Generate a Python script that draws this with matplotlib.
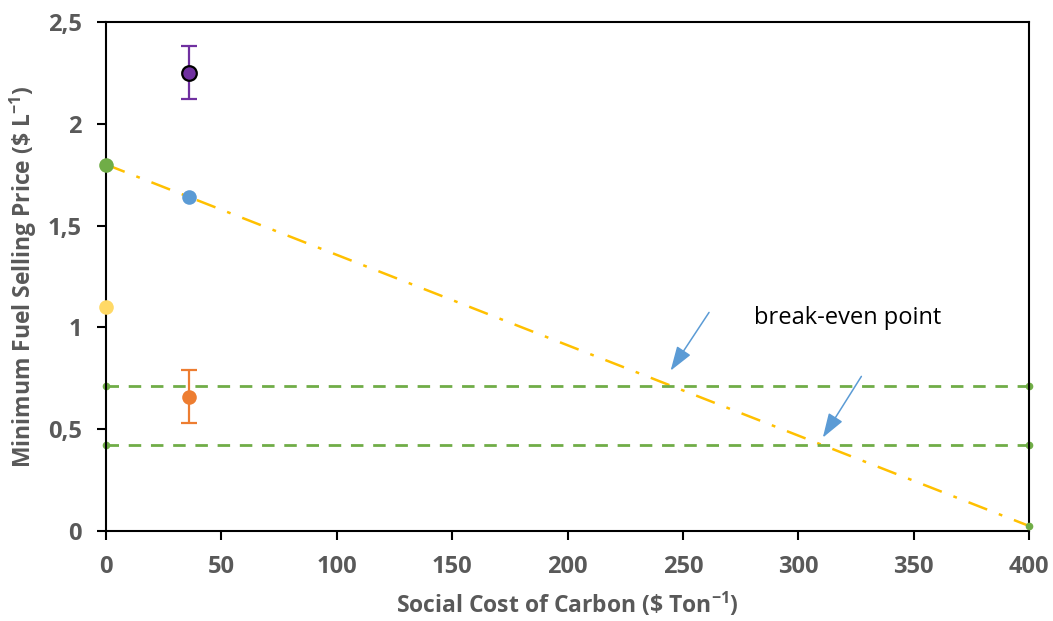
import matplotlib
matplotlib.use('Agg')
import matplotlib.pyplot as plt

# Data
scc_points = [36, 0, 36, 0, 36]           # $ / ton
mfsp_points = [2.25, 1.80, 1.64, 1.10, 0.66]  # $ / L
mfsp_err = [0.13, 0, 0, 0, 0.13]
point_colors = ['#7030A0', '#70AD47', '#5B9BD5', '#FFD966', '#ED7D31']
point_edges = ['black', '#70AD47', '#5B9BD5', '#FFD966', '#ED7D31']

trend_x = [0, 400]
trend_y = [1.80, 0.025]

level_x = [0, 400]
level_high = [0.712, 0.712]
level_low = [0.422, 0.422]

arrow_tails = [(262, 1.085), (328, 0.771)]
arrow_heads = [(244, 0.776), (310, 0.447)]

xticks = [0, 50, 100, 150, 200, 250, 300, 350, 400]
yticks = [0, 0.5, 1, 1.5, 2, 2.5]
ytick_labels = ['0', '0,5', '1', '1,5', '2', '2,5']

plt.rcParams['font.family'] = ['Open Sans', 'DejaVu Sans']
plt.rcParams['mathtext.fontset'] = 'custom'
plt.rcParams['mathtext.rm'] = 'Open Sans:bold'
plt.rcParams['mathtext.bf'] = 'Open Sans:bold'

gray = '#595959'

fig = plt.figure(figsize=(10.53, 6.21), dpi=100)
ax = fig.add_axes([0.1007, 0.1449, 0.8765, 0.8197])

# trend line and level lines
ax.plot(trend_x, trend_y, color='#FFC000', linestyle=(0, (8, 5, 1.5, 5)), linewidth=1.8, zorder=2)
ax.plot(trend_x[1:], trend_y[1:], 'o', color='#70AD47', markersize=4.5, zorder=3, clip_on=False)
for lv in (level_high, level_low):
    ax.plot(level_x, lv, color='#70AD47', linestyle=(0, (4.5, 3.5)), linewidth=2,
            marker='o', markersize=4.5, zorder=2, clip_on=False)

# points with error bars
for x, y, e, c, ec in zip(scc_points, mfsp_points, mfsp_err, point_colors, point_edges):
    if e > 0:
        ax.errorbar(x, y, yerr=e, fmt='none', ecolor=c, elinewidth=1.6, capsize=6,
                    capthick=1.6, zorder=3)
    ax.plot(x, y, 'o', markersize=10.5, markerfacecolor=c, markeredgecolor=ec,
            markeredgewidth=1.6 if ec == 'black' else 0, zorder=4, clip_on=False)

# arrows
for (tx, ty), (hx, hy) in zip(arrow_tails, arrow_heads):
    ax.annotate('', xy=(hx, hy), xytext=(tx, ty),
                arrowprops=dict(arrowstyle='-|>,head_length=1.5,head_width=0.5',
                                color='#5B9BD5', linewidth=1.1), zorder=5)
ax.text(281, 1.046, 'break-even point', fontsize=17, color='black', va='center', ha='left')

ax.set_xlim(0, 400)
ax.set_ylim(0, 2.5)
ax.set_xticks(xticks)
ax.set_xticklabels([str(t) for t in xticks])
ax.set_yticks(yticks)
ax.set_yticklabels(ytick_labels)

for s in ax.spines.values():
    s.set_color('black')
    s.set_linewidth(1.5)
ax.tick_params(direction='out', length=6.5, width=1.5, color='black',
               labelsize=17, labelcolor=gray)
ax.tick_params(axis='y', pad=11)
ax.tick_params(axis='x', pad=11)
for lab in ax.get_xticklabels() + ax.get_yticklabels():
    lab.set_fontweight('bold')

ax.set_xlabel(r'Social Cost of Carbon (\$ Ton$^{-1}$)', fontsize=16.5, fontweight='bold',
              color=gray, labelpad=8)
ax.set_ylabel(r'Minimum Fuel Selling Price (\$ L$^{-1}$)', fontsize=16.5, fontweight='bold',
              color=gray, labelpad=6)

fig.savefig('out.png', dpi=100)
